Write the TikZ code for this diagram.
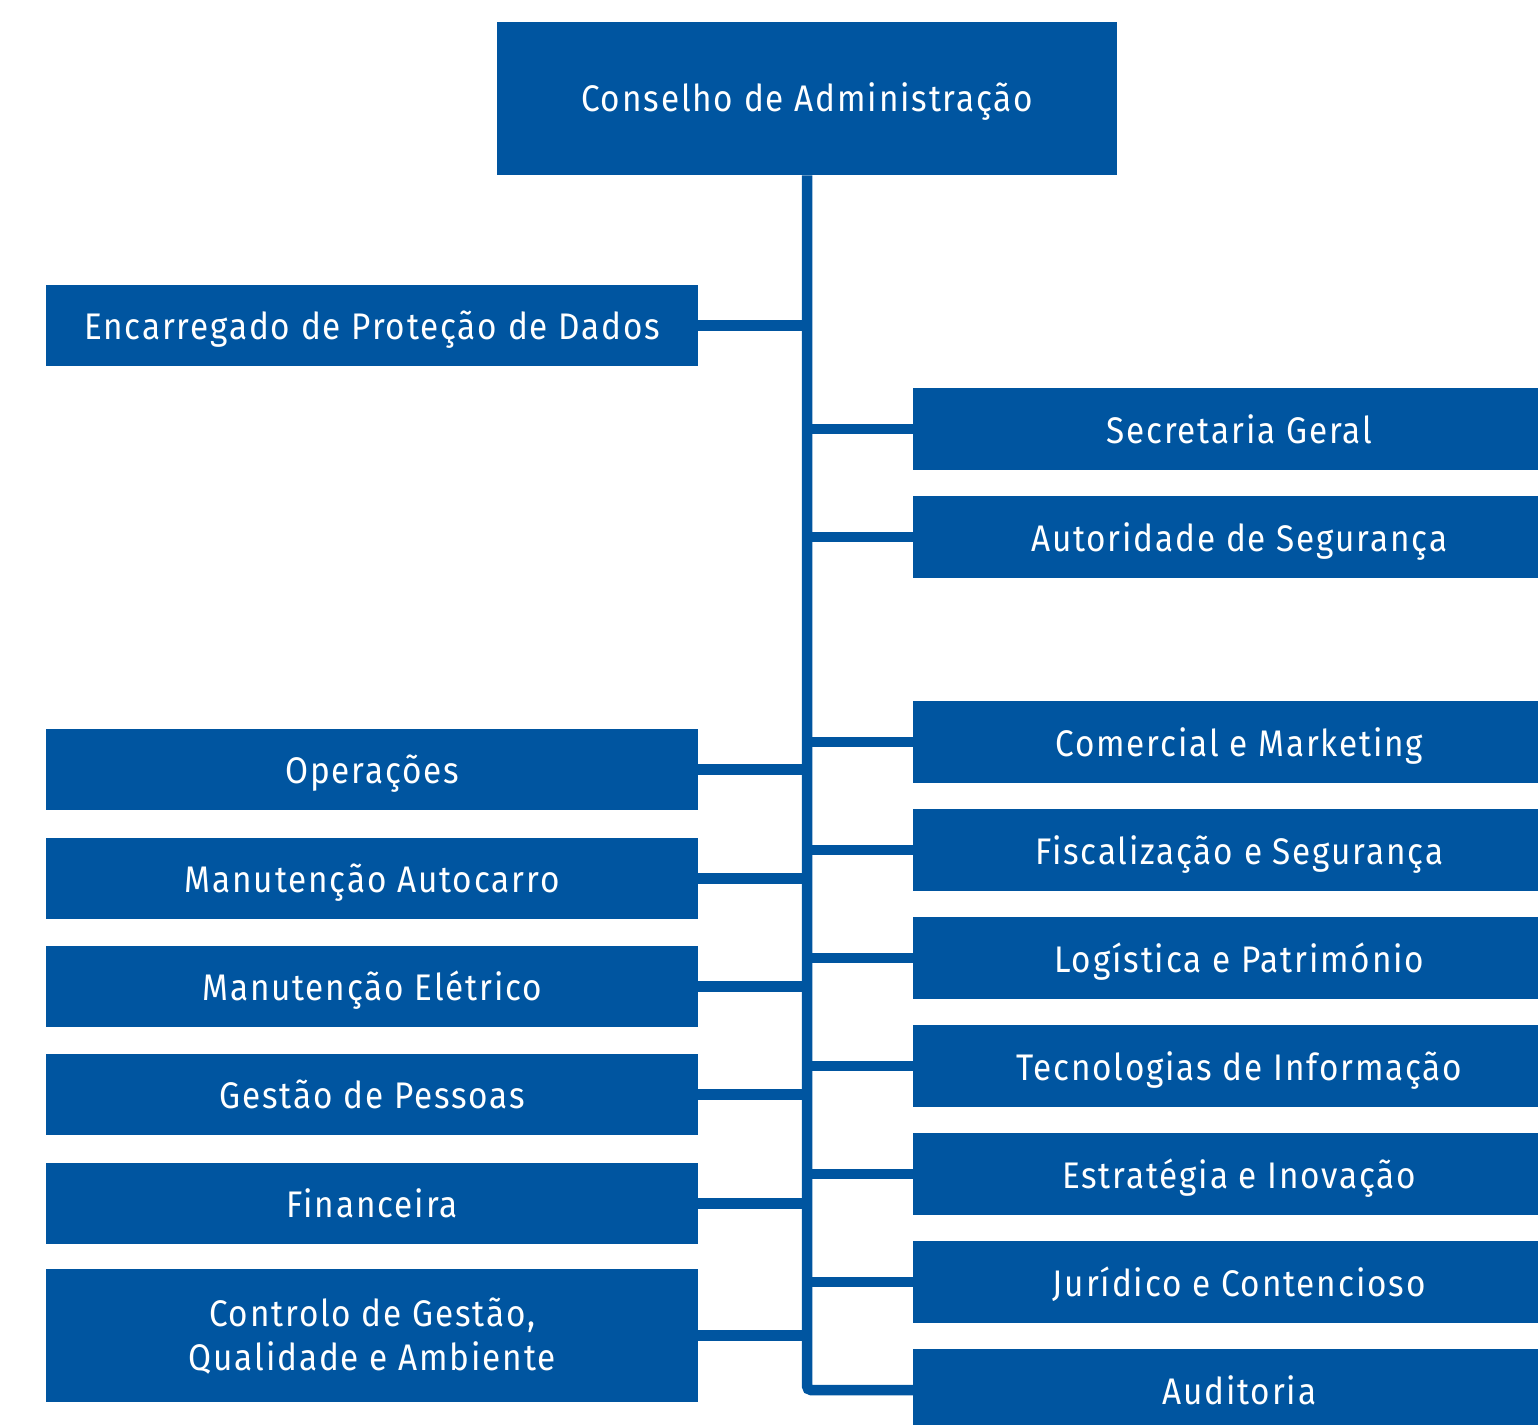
\documentclass[tikz,border=0pt]{standalone}
\usepackage{fontspec}
\setmainfont{Fira Sans}[FakeStretch=0.9,LetterSpace=5]
\definecolor{orgblue}{HTML}{0055A0}
\begin{document}
\begin{tikzpicture}[x=1pt,y=-1pt,
  box/.style={fill=orgblue,text=white,inner sep=0pt,anchor=north west,
    font=\fontsize{37}{44}\selectfont,text height=36pt,text depth=8pt},
  lbox/.style={box,minimum width=652pt,minimum height=81pt},
  rbox/.style={box,minimum width=652pt,minimum height=82pt},
  conn/.style={draw=orgblue,line width=10.5pt}]
\node[box,minimum width=620pt,minimum height=153pt,text height=34pt] (cda) at (497,22) {Conselho de Administração};
% left
\node[lbox] (enc) at (46,285) {Encarregado de Proteção de Dados};
\node[lbox] (ope) at (46,729) {Operações};
\node[lbox] (mau) at (46,838) {Manutenção Autocarro};
\node[lbox] (mel) at (46,946) {Manutenção Elétrico};
\node[lbox] (gpe) at (46,1054) {Gestão de Pessoas};
\node[lbox] (fin) at (46,1163) {Financeira};
\node[lbox,minimum height=133pt,align=center,text height=78pt] (cgq) at (46,1269) {Controlo de Gestão,\\Qualidade e Ambiente};
% right
\node[rbox] (sec) at (913,388) {Secretaria Geral};
\node[rbox] (aut) at (913,496) {Autoridade de Segurança};
\node[rbox] (com) at (913,701) {Comercial e Marketing};
\node[rbox] (fis) at (913,809) {Fiscalização e Segurança};
\node[rbox] (log) at (913,917) {Logística e Património};
\node[rbox] (tec) at (913,1025) {Tecnologias de Informação};
\node[rbox] (est) at (913,1133) {Estratégia e Inovação};
\node[rbox] (jur) at (913,1241) {Jurídico e Contencioso};
\node[rbox] (aud) at (913,1349) {Auditoria};
% trunk
\coordinate (tbot) at (807,1390);
\draw[conn,rounded corners=4pt] (cda.south) -- (tbot) -- (aud.west |- tbot);
\foreach \n in {enc,ope,mau,mel,gpe,fin,cgq}
  \draw[conn] (\n.east) -- (\n.east -| cda.south);
\foreach \n in {sec,aut,com,fis,log,tec,est,jur}
  \draw[conn] (\n.west) -- (\n.west -| cda.south);
\pgfresetboundingbox
\useasboundingbox (0,0) rectangle (1538,1424);
\end{tikzpicture}
\end{document}
